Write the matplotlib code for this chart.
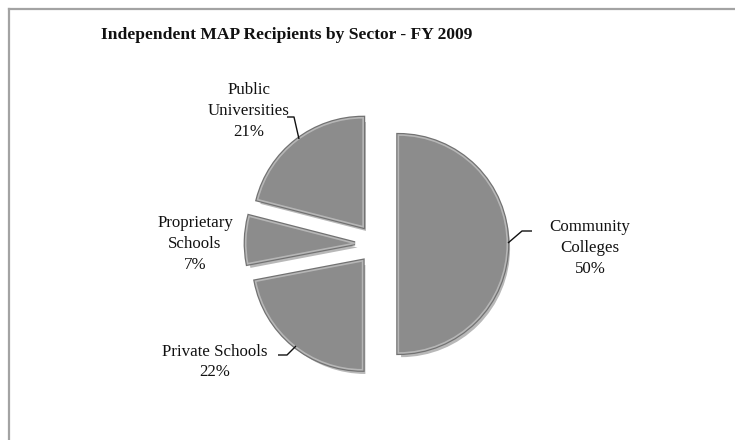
import numpy as np
import matplotlib
matplotlib.use("Agg")
import matplotlib.pyplot as plt
import matplotlib.patheffects as pe
from matplotlib.lines import Line2D

plt.rcParams["font.family"] = ["Liberation Serif", "DejaVu Serif"]

sectors = ["Community\nColleges", "Private Schools", "Proprietary\nSchools", "Public\nUniversities"]
shares = [50, 22, 7, 21]
explode = [0.2, 0.2, 0.2, 0.2]

W, H, DPI = 735, 440, 100
CX, CY, R = 376.5, 244.0, 109.0      # pie centre and radius in figure pixels (y from top)

fig = plt.figure(figsize=(W / DPI, H / DPI), dpi=DPI)
ax = fig.add_axes([0, 0, 1, 1])


def px(x, y):
    """pixel position (y down) -> data units of the pie axes"""
    return (x - CX) / R, (CY - y) / R


wedges, _ = ax.pie(shares, explode=explode, startangle=90, counterclock=False, radius=1,
                   colors=["#8c8c8c"] * 4, frame=True,
                   wedgeprops=dict(edgecolor="#b6b6b6", linewidth=1.2))
ax.set_xlim(-CX / R, (W - CX) / R)
ax.set_ylim((CY - H) / R, CY / R)
ax.set_aspect("auto")
ax.axis("off")
for w in wedges:
    w.set_path_effects([pe.SimplePatchShadow(offset=(2, -3), shadow_rgbFace="k", alpha=0.28),
                        pe.Stroke(linewidth=3.0, foreground="#727272"), pe.Normal()])

# labels with their leader lines
lab_pos = [(590, 248), (215, 362), (195, 244), (249, 111)]
leaders = [
    [(508, 243), (522, 231), (532, 231)],
    [(278, 355), (287, 355), (296, 346)],
    None,
    [(287, 117), (294, 117), (299, 139)],
]
for name, v, (lx, ly), ld in zip(sectors, shares, lab_pos, leaders):
    ax.text(*px(lx, ly), f"{name}\n{v}%", ha="center", va="center", fontsize=12.2,
            linespacing=1.38, color="#111111")
    if ld:
        xs, ys = zip(*[px(*p) for p in ld])
        ax.plot(xs, ys, color="#111111", lw=1.0, solid_capstyle="butt")

ax.text(*px(287, 35), "Independent MAP Recipients by Sector - FY 2009", ha="center", va="center",
        fontsize=12.6, fontweight="bold", color="#111111")

# chart-area frame (top and left edges)
for xs, ys in (([9, W], [H - 9, H - 9]), ([9, 9], [H - 9, 0])):
    fig.add_artist(Line2D(xs, ys, transform=None, color="#a3a3a3", lw=1.6))

fig.savefig("out.png", dpi=DPI)
